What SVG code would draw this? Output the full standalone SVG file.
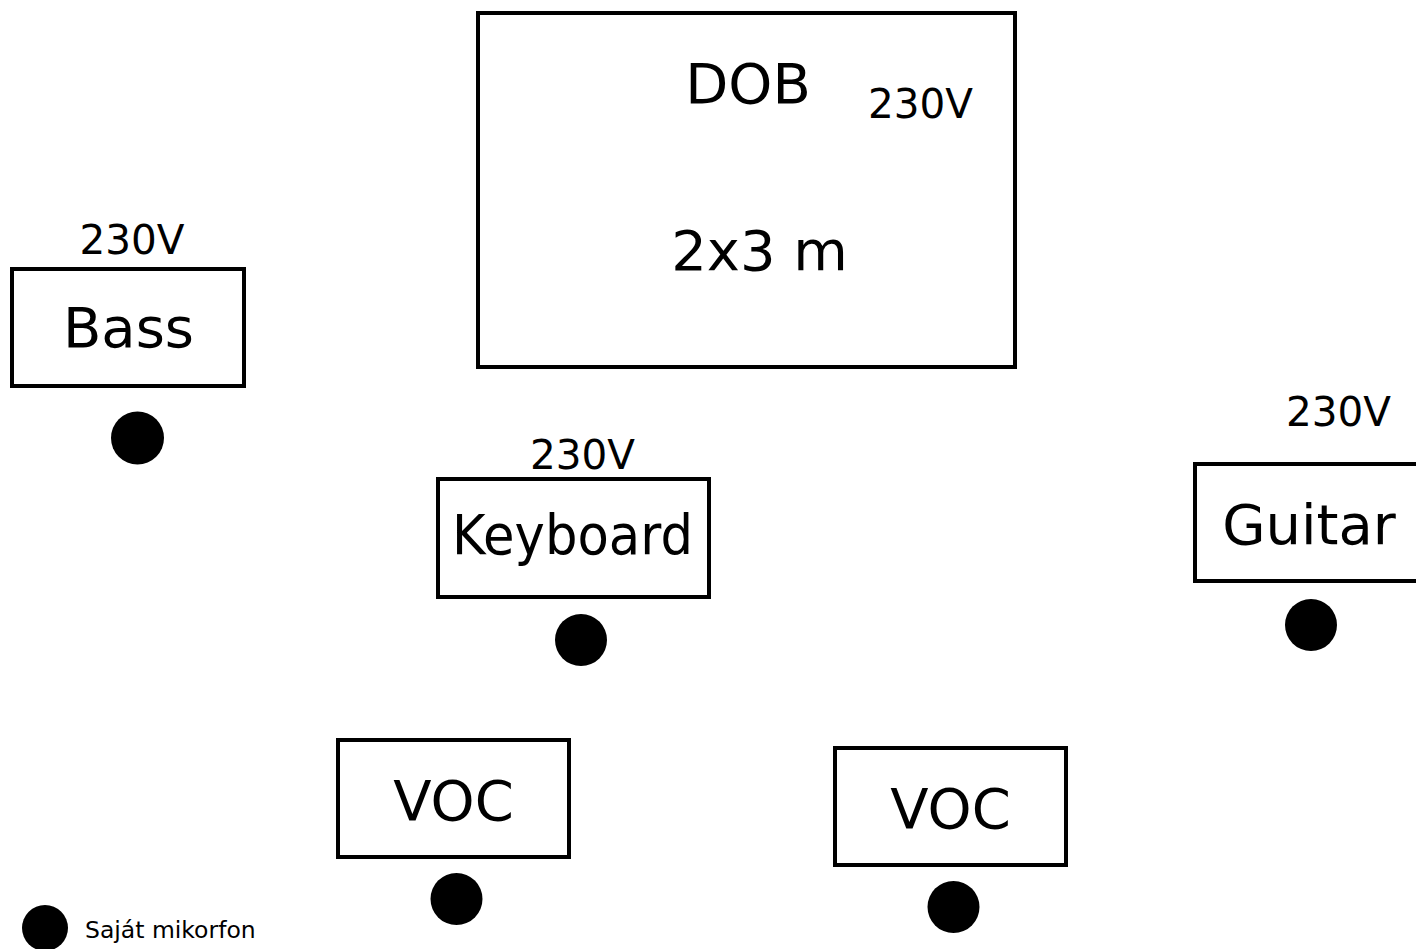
<svg xmlns="http://www.w3.org/2000/svg" width="1416" height="949" viewBox="0 0 1416 949">
<style>
.box{fill:#fff;stroke:#000;stroke-width:4}
.big{font-family:"DejaVu Sans",sans-serif;font-size:56px;fill:#000;text-anchor:middle}
.v{font-family:"DejaVu Sans",sans-serif;font-size:40.5px;fill:#000;text-anchor:middle}
.dot{fill:#000}
</style>
<rect width="1416" height="949" fill="#fff"/>
<g id="dob">
<rect class="box" x="478" y="13" width="537" height="354"/>
<text class="big" x="748" y="103">DOB</text>
<text class="v" x="920.5" y="118">230V</text>
<text class="big" x="759.5" y="270">2x3 m</text>
</g>
<g id="bass">
<text class="v" x="132" y="254">230V</text>
<rect class="box" x="12" y="269" width="232" height="117"/>
<text class="big" x="128.5" y="347">Bass</text>
<circle class="dot" cx="137.5" cy="438" r="26.5"/>
</g>
<g id="keyboard">
<text class="v" x="582.5" y="469">230V</text>
<rect class="box" x="438" y="479" width="271" height="118"/>
<text class="big" x="572.5" y="554" textLength="241" lengthAdjust="spacingAndGlyphs">Keyboard</text>
<circle class="dot" cx="581" cy="640" r="26"/>
</g>
<g id="guitar">
<text class="v" x="1338.5" y="426">230V</text>
<rect class="box" x="1195" y="464" width="240" height="117"/>
<text class="big" x="1309" y="544">Guitar</text>
<circle class="dot" cx="1311" cy="625" r="26"/>
</g>
<g id="voc1">
<rect class="box" x="338" y="740" width="231" height="117"/>
<text class="big" x="453.5" y="820">VOC</text>
<circle class="dot" cx="456.5" cy="899" r="26"/>
</g>
<g id="voc2">
<rect class="box" x="835" y="748" width="231" height="117"/>
<text class="big" x="950.5" y="828">VOC</text>
<circle class="dot" cx="953.5" cy="907" r="26"/>
</g>
<g id="legend">
<circle class="dot" cx="45" cy="928" r="23"/>
<text x="85" y="938" font-family="DejaVu Sans, sans-serif" font-size="23.5">Saját mikorfon</text>
</g>
<g id="connectors"/>
</svg>
